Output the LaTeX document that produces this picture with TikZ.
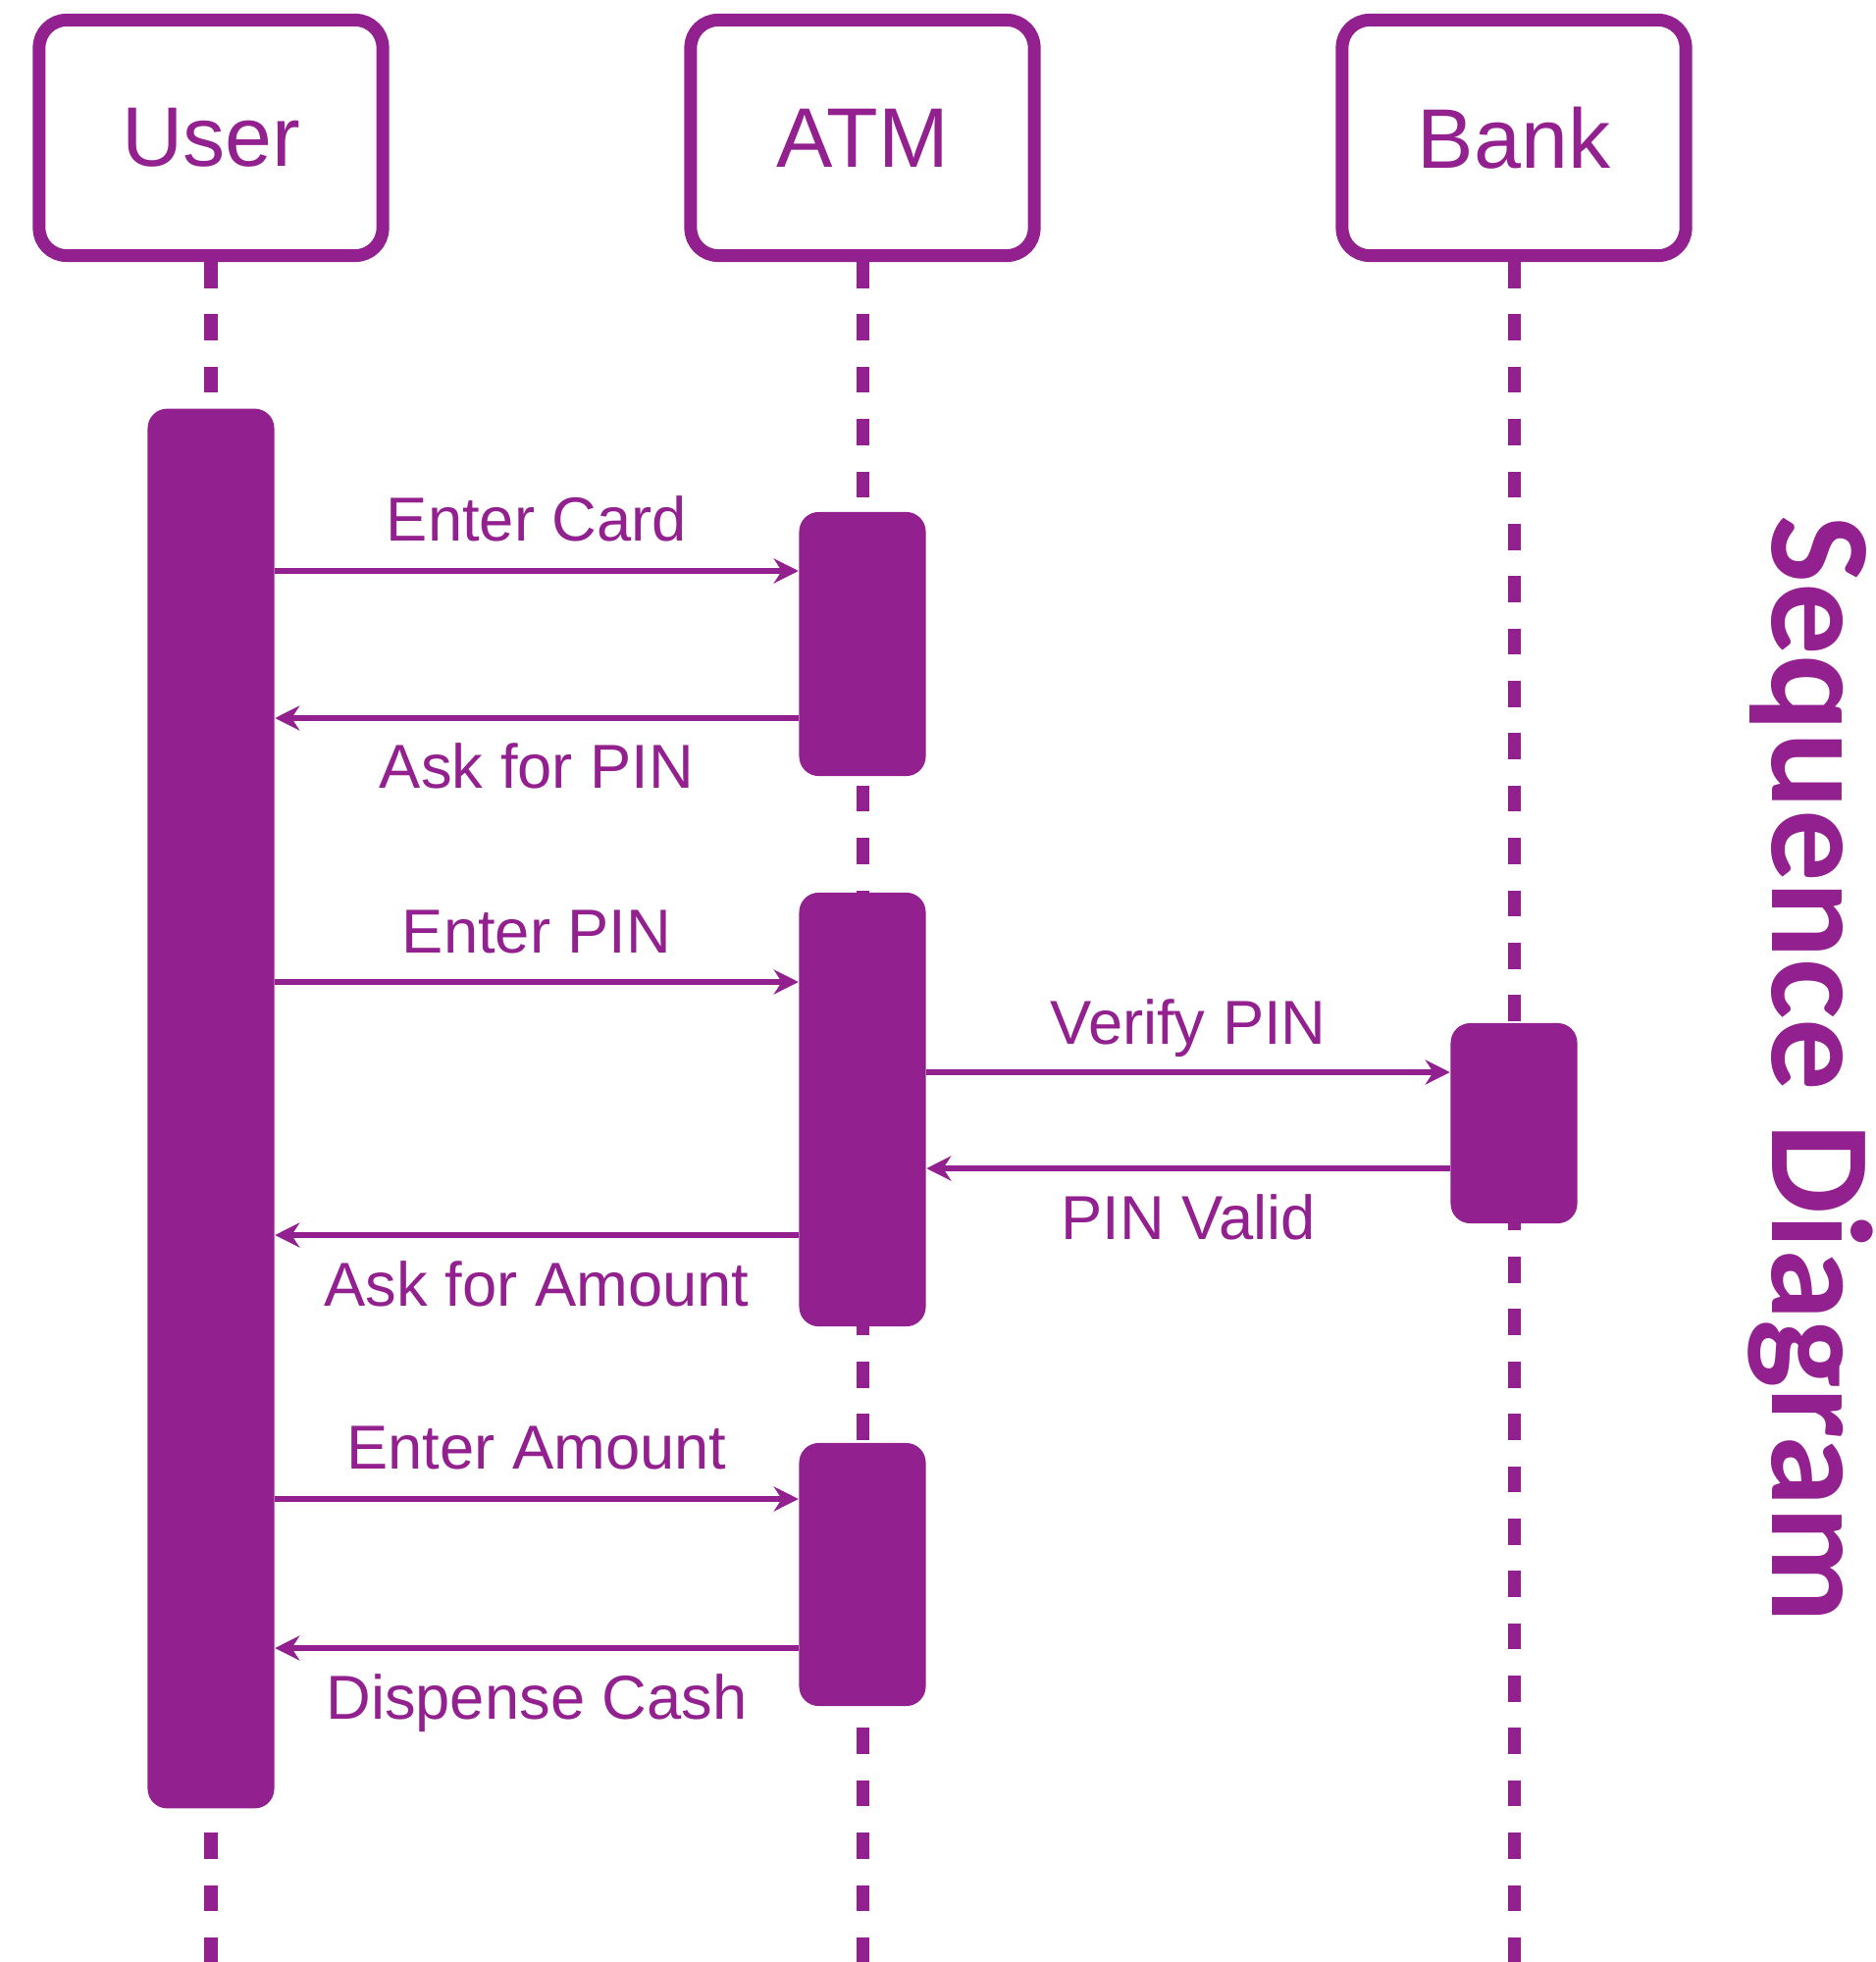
\documentclass[tikz,border=0pt]{standalone}
\usepackage{fontspec}
\setmainfont{Liberation Sans}
\newfontfamily\titlefont{Carlito}
\usetikzlibrary{arrows.meta}
\definecolor{seqpurple}{HTML}{92208F}

\begin{document}
\begin{tikzpicture}[x=0.01cm,y=-0.01cm, %one unit is one pixel of the 1911 by 2000 picture, y runs down
  actor/.style={draw=seqpurple,line width=0.13cm,rounded corners=0.28cm,minimum width=3.5cm,minimum height=2.4cm,inner sep=0pt,text=seqpurple,font=\fontsize{24.5}{28}\selectfont},
  bar/.style={fill=seqpurple,rounded corners=0.2cm,minimum width=1.29cm,inner sep=0pt},
  life/.style={seqpurple,line width=0.13cm,dash pattern=on 0.2667cm off 0.2667cm},
  msg/.style={seqpurple,line width=0.055cm,-{Stealth[length=0.25cm,width=0.25cm,inset=0.08cm]}},
  lbl/.style={text=seqpurple,inner sep=0pt,font=\fontsize{18}{21}\selectfont}]
\useasboundingbox (0,0) rectangle (1911,2000); %fixes the margins

\node[actor] (user) at (215,140.5) {User};
\node[actor] (atm) at (879,140.5) {ATM};
\node[actor] (bank) at (1543,140.5) {Bank};

\coordinate (userend) at (215,2000);
\coordinate (atmend) at (879,2000);
\coordinate (bankend) at (1543,2000);
\draw[life] (user.south) -- (userend); %lifelines
\draw[life] (atm.south) -- (atmend);
\draw[life] (bank.south) -- (bankend);

\node[bar,minimum height=14.26cm] (userbar) at (215,1130) {}; %activation bars
\node[bar,minimum height=2.69cm] (atmbarA) at (879,656.5) {};
\node[bar,minimum height=4.42cm] (atmbarB) at (879,1131) {};
\node[bar,minimum height=2.68cm] (atmbarC) at (879,1605) {};
\node[bar,minimum height=2.04cm] (bankbar) at (1543,1145) {};

\draw[msg] (userbar.east |- 0,582) -- (atmbarA.west |- 0,582) node[lbl,midway,anchor=base,yshift=0.3cm] (m1) {Enter Card};
\draw[msg] (atmbarA.west |- 0,732) -- (userbar.east |- 0,732) node[lbl,midway,anchor=base,yshift=-0.71cm] (m2) {Ask for PIN};
\draw[msg] (userbar.east |- 0,1001) -- (atmbarB.west |- 0,1001) node[lbl,midway,anchor=base,yshift=0.29cm] (m3) {Enter PIN};
\draw[msg] (atmbarB.east |- 0,1093) -- (bankbar.west |- 0,1093) node[lbl,midway,anchor=base,yshift=0.28cm] (m4) {Verify PIN};
\draw[msg] (bankbar.west |- 0,1191) -- (atmbarB.east |- 0,1191) node[lbl,midway,anchor=base,yshift=-0.72cm] (m5) {PIN Valid};
\draw[msg] (atmbarB.west |- 0,1259) -- (userbar.east |- 0,1259) node[lbl,midway,anchor=base,yshift=-0.72cm] (m6) {Ask for Amount};
\draw[msg] (userbar.east |- 0,1528) -- (atmbarC.west |- 0,1528) node[lbl,midway,anchor=base,yshift=0.3cm] (m7) {Enter Amount};
\draw[msg] (atmbarC.west |- 0,1680) -- (userbar.east |- 0,1680) node[lbl,midway,anchor=base,yshift=-0.72cm] (m8) {Dispense Cash};

\node[text=seqpurple,inner sep=0pt,rotate=-90,anchor=base,font=\titlefont\bfseries\fontsize{41.6}{46}\selectfont] (title) at (1806,1090) {Sequence Diagram};
\end{tikzpicture}
\end{document}
